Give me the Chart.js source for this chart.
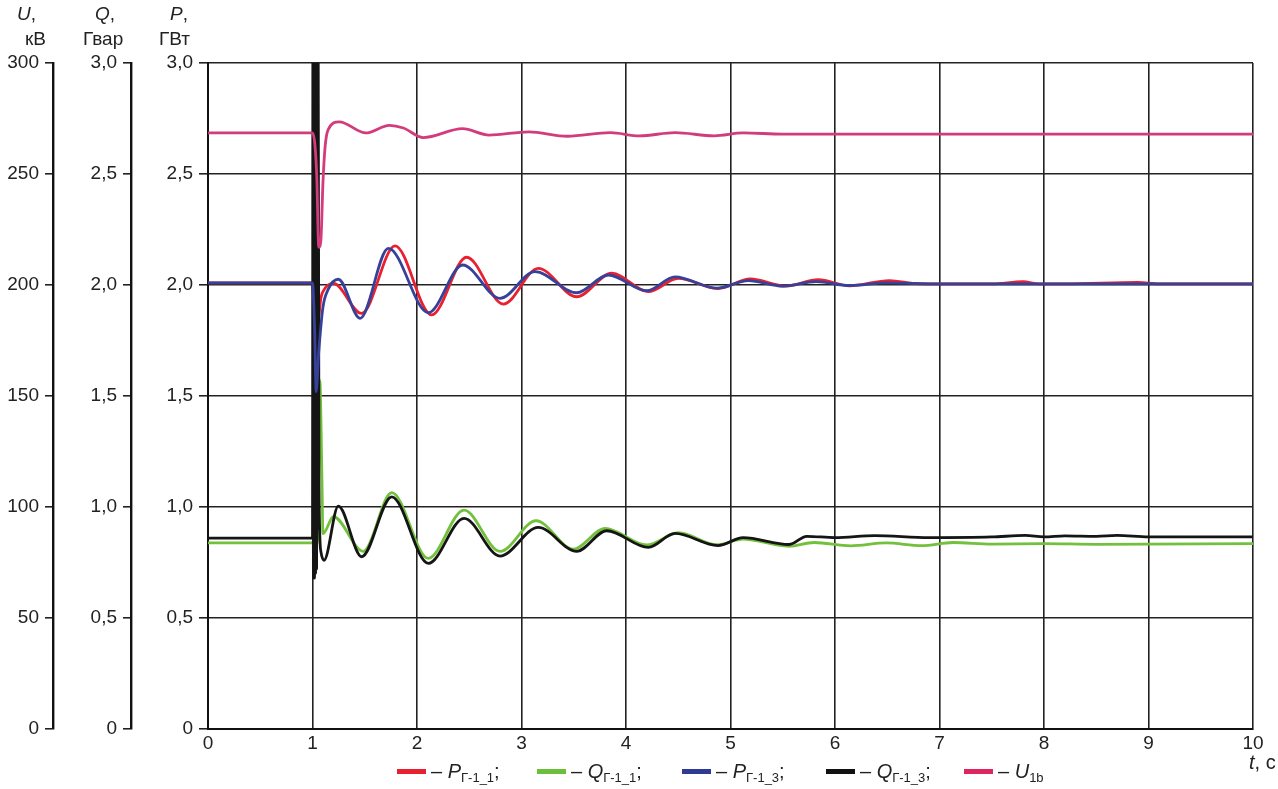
<!DOCTYPE html>
<html>
<head>
<meta charset="utf-8">
<script src="https://cdn.jsdelivr.net/npm/chart.js@4.4.1/dist/chart.umd.min.js"></script>
<style>
    body { margin: 0; background: #fff; font-family: "Liberation Sans", Arial, sans-serif; color: #222; }
    #wrap { position: relative; width: 1278px; height: 789px; }
    #chart { position: absolute; left: 0; top: 0; }
    .ttl { position: absolute; font-size: 19px; line-height: 22px; white-space: nowrap; }
    .lg { position: absolute; top: 759px; font-size: 20px; line-height: 24px; white-space: nowrap; }
    .sw { display: inline-block; width: 29px; height: 5px; vertical-align: middle; margin-right: 5px; position: relative; top: -1px; }
    sub { font-size: 13px; vertical-align: -4px; }
</style>
</head>
<body>
<div id="wrap">
    <canvas id="chart" width="1278" height="789"></canvas>

    <!-- axis titles -->
    <div class="ttl" style="left:17px;top:3px"><i>U</i>,</div>
    <div class="ttl" style="left:25px;top:28px">кВ</div>
    <div class="ttl" style="left:95px;top:3px"><i>Q</i>,</div>
    <div class="ttl" style="left:83px;top:28px">Гвар</div>
    <div class="ttl" style="left:170px;top:3px"><i>P</i>,</div>
    <div class="ttl" style="left:159px;top:28px">ГВт</div>

    <!-- legend -->
    <div class="lg" style="left:397px"><span class="sw" style="background:#e8202f"></span>– <i>P</i><sub>Г-1_1</sub>;</div>
    <div class="lg" style="left:537px"><span class="sw" style="background:#6cbf3a"></span>– <i>Q</i><sub>Г-1_1</sub>;</div>
    <div class="lg" style="left:682px"><span class="sw" style="background:#2e3b94"></span>– <i>P</i><sub>Г-1_3</sub>;</div>
    <div class="lg" style="left:826px"><span class="sw" style="background:#111"></span>– <i>Q</i><sub>Г-1_3</sub>;</div>
    <div class="lg" style="left:964px"><span class="sw" style="background:#e0245e"></span>– <i>U</i><sub>1b</sub></div>
    <div class="lg" style="left:1249px;top:750px"><i>t</i>, c</div>
</div>

<script>
// Time axis ticks
const xTicks = [0, 1, 2, 3, 4, 5, 6, 7, 8, 9, 10];

// P Г-1_1 (red), GW
const tP11 = [0, 1.0, 1.03, 1.06, 1.08, 1.1, 1.2, 1.47, 1.79, 2.14, 2.475, 2.826, 3.161, 3.528, 3.863, 4.214, 4.5, 4.88, 5.19, 5.53, 5.84, 6.14, 6.52, 6.8, 7.5, 7.8, 7.95, 8.2, 8.9, 9.1, 10];
const pG11 = [2.01, 2.01, 1.70, 1.85, 1.94, 1.97, 2.007, 1.872, 2.176, 1.865, 2.125, 1.914, 2.075, 1.947, 2.053, 1.970, 2.030, 1.984, 2.027, 1.995, 2.024, 1.996, 2.020, 2.005, 2.005, 2.015, 2.005, 2.005, 2.012, 2.005, 2.005];

// P Г-1_3 (blue), GW
const tP13 = [0, 1.0, 1.02, 1.035, 1.06, 1.1, 1.15, 1.247, 1.455, 1.726, 2.108, 2.437, 2.794, 3.129, 3.528, 3.831, 4.198, 4.469, 4.87, 5.17, 5.5, 5.82, 6.14, 6.5, 7, 10];
const pG13 = [2.01, 2.01, 1.80, 1.52, 1.70, 1.90, 1.98, 2.026, 1.850, 2.165, 1.875, 2.090, 1.940, 2.060, 1.965, 2.045, 1.974, 2.037, 1.986, 2.020, 1.995, 2.015, 1.997, 2.010, 2.005, 2.005];

// Q Г-1_1 (green), Gvar
const tQ11 = [0, 1.0, 1.05, 1.07, 1.09, 1.1, 1.2, 1.486, 1.758, 2.108, 2.45, 2.794, 3.14, 3.496, 3.8, 4.198, 4.5, 4.87, 5.12, 5.56, 5.8, 6.15, 6.49, 6.83, 7.13, 7.5, 8, 8.5, 10];
const qG11 = [0.838, 0.838, 0.84, 1.57, 1.14, 0.88, 0.956, 0.800, 1.065, 0.769, 0.986, 0.800, 0.938, 0.810, 0.904, 0.829, 0.884, 0.830, 0.855, 0.823, 0.840, 0.825, 0.838, 0.826, 0.840, 0.833, 0.835, 0.832, 0.835];

// Q Г-1_3 (black), Gvar
const tQ13 = [0, 1.0, 1.004, 1.009, 1.014, 1.019, 1.024, 1.029, 1.034, 1.039, 1.044, 1.049, 1.054, 1.062, 1.08, 1.11, 1.247, 1.47, 1.758, 2.108, 2.45, 2.794, 3.16, 3.528, 3.815, 4.214, 4.469, 4.88, 5.12, 5.56, 5.73, 6.0, 6.38, 6.9, 7.5, 7.82, 8.0, 8.2, 8.5, 8.7, 9.0, 10];
const qG13 = [0.86, 0.86, 3.2, 0.68, 3.2, 0.68, 3.2, 0.70, 3.2, 0.72, 3.2, 0.90, 3.2, 1.10, 0.80, 0.76, 1.004, 0.776, 1.046, 0.746, 0.949, 0.779, 0.908, 0.800, 0.893, 0.818, 0.881, 0.826, 0.862, 0.831, 0.868, 0.862, 0.871, 0.862, 0.865, 0.872, 0.865, 0.870, 0.868, 0.872, 0.865, 0.865];

// U 1b (pink), kV
const tU1b = [0, 1.0, 1.04, 1.06, 1.08, 1.1, 1.12, 1.15, 1.256, 1.51, 1.735, 1.87, 2.06, 2.435, 2.69, 3.07, 3.44, 3.85, 4.13, 4.47, 4.845, 5.12, 5.5, 10];
const uB1 = [268.5, 268.5, 250, 217, 220, 246, 262, 270, 273.5, 268.5, 271.9, 270.7, 266.4, 270.4, 267.5, 269.0, 267.0, 268.6, 267.2, 268.6, 267.2, 268.5, 268.0, 268.0];

function pairs(ts, vs) {
    return ts.map((t, i) => ({ x: t, y: vs[i] }));
}

function fmtComma(v) {
    return v === 0 ? '0' : v.toFixed(1).replace('.', ',');
}

const tickFont = { family: '"Liberation Sans", Arial, sans-serif', size: 19 };
const ink = '#222';

function line(label, data, color, axis) {
    return {
        label: label,
        data: data,
        borderColor: color,
        borderWidth: 2.8,
        pointRadius: 0,
        cubicInterpolationMode: 'monotone',
        yAxisID: axis
    };
}

new Chart(document.getElementById('chart'), {
    type: 'line',
    data: {
        datasets: [
            line('U1b', pairs(tU1b, uB1), '#d23c7c', 'yU'),
            line('PГ-1_3', pairs(tP13, pG13), '#36419a', 'yP'),
            line('QГ-1_3', pairs(tQ13, qG13), '#151515', 'yQ'),
            line('PГ-1_1', pairs(tP11, pG11), '#e8202f', 'yP'),
            line('QГ-1_1', pairs(tQ11, qG11), '#72c03c', 'yQ')
        ]
    },
    options: {
        responsive: false,
        animation: false,
        layout: { padding: { left: 0, right: 25, top: 63, bottom: 0 } },
        plugins: { legend: { display: false }, tooltip: { enabled: false } },
        scales: {
            x: {
                type: 'linear',
                min: 0,
                max: 10,
                afterBuildTicks: s => { s.ticks = xTicks.map(v => ({ value: v })); },
                ticks: { font: tickFont, color: ink, padding: 3 },
                grid: { color: ink, lineWidth: 1.6, drawTicks: false },
                border: { color: '#111', width: 2 },
                afterFit: s => { s.height = 60; }
            },
            yP: {
                position: 'left',
                weight: 0,
                min: 0,
                max: 3,
                ticks: { stepSize: 0.5, font: tickFont, color: ink, padding: 6, callback: fmtComma },
                grid: { color: ink, lineWidth: 1.6, tickLength: 9 },
                border: { color: '#111', width: 2 },
                afterFit: s => { s.width = 77; }
            },
            yQ: {
                position: 'left',
                weight: 1,
                min: 0,
                max: 3,
                ticks: { stepSize: 0.5, font: tickFont, color: ink, padding: 6, callback: fmtComma },
                grid: { color: ink, lineWidth: 1.6, tickLength: 8, drawOnChartArea: false },
                border: { color: '#111', width: 2.4 },
                afterFit: s => { s.width = 78; }
            },
            yU: {
                position: 'left',
                weight: 2,
                min: 0,
                max: 300,
                ticks: { stepSize: 50, font: tickFont, color: ink, padding: 6 },
                grid: { color: ink, lineWidth: 1.6, tickLength: 8, drawOnChartArea: false },
                border: { color: '#111', width: 2.4 },
                afterFit: s => { s.width = 53; }
            }
        }
    }
});
</script>
</body>
</html>
